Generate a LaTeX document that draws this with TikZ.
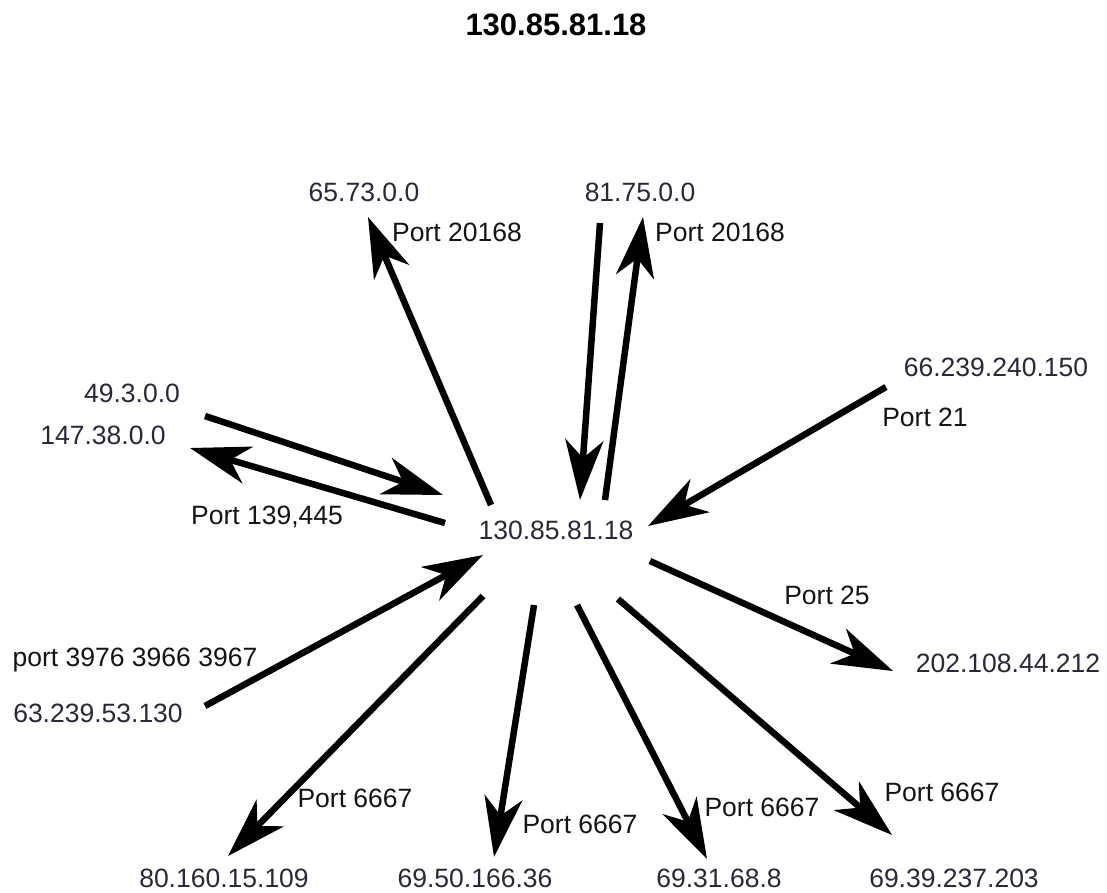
\documentclass[tikz,border=0pt]{standalone}
\usepackage{fontspec}
\setmainfont{Liberation Sans}
\usetikzlibrary{arrows.meta}
\definecolor{ipcol}{RGB}{40,40,58}
\definecolor{portcol}{RGB}{20,20,20}
\tikzset{
  lbl/.style={inner sep=0pt, text depth=0pt, font=\fontsize{26.5}{30}\selectfont, text=portcol},
  ip/.style={inner sep=0pt, text depth=0pt, font=\fontsize{26.5}{30}\selectfont, text=ipcol},
  big/.style={line width=6.5pt, -{Stealth[length=60pt,width=38pt,inset=18pt]}}
}
\begin{document}
\begin{tikzpicture}[x=1pt,y=-1pt]
\useasboundingbox (0,0) rectangle (1107,892);
\fill[white] (0,0) rectangle (1107,892);
% title
\node[inner sep=0pt, text depth=0pt, font=\fontsize{31}{36}\selectfont\bfseries] (title) at (556,25) {130.85.81.18};
% center
\node[ip] (c) at (556,530) {130.85.81.18};
% IP nodes
\node[ip] (n1) at (364,192) {65.73.0.0};
\node[ip] (n2) at (640,192) {81.75.0.0};
\node[ip] (n3) at (996,367) {66.239.240.150};
\node[ip] (n4) at (132,393) {49.3.0.0};
\node[ip] (n5) at (103,435) {147.38.0.0};
\node[ip] (n6) at (98,713) {63.239.53.130};
\node[ip] (n7) at (224,878) {80.160.15.109};
\node[ip] (n8) at (475,878) {69.50.166.36};
\node[ip] (n9) at (719,878) {69.31.68.8};
\node[ip] (n10) at (954,878) {69.39.237.203};
\node[ip] (n11) at (1008,663) {202.108.44.212};
% port labels
\node[lbl] (p1) at (457,232) {Port 20168};
\node[lbl] (p2) at (720,232) {Port 20168};
\node[lbl] (p3) at (925,417) {Port 21};
\node[lbl] (p4) at (267,515) {Port 139,445};
\node[lbl] (p5) at (135,657) {port 3976 3966 3967};
\node[lbl] (p6) at (355,798) {Port 6667};
\node[lbl] (p7) at (580,824) {Port 6667};
\node[lbl] (p8) at (762,807) {Port 6667};
\node[lbl] (p9) at (942,792) {Port 6667};
\node[lbl] (p10) at (827,595) {Port 25};
% arrow end coordinates
\coordinate (a1s) at (491,505); \coordinate (a1e) at (368,217);
\coordinate (a2s) at (600,223); \coordinate (a2e) at (580,500);
\coordinate (a3s) at (605,500); \coordinate (a3e) at (643,217);
\coordinate (a4s) at (886,387); \coordinate (a4e) at (648,526);
\coordinate (a5s) at (205,416); \coordinate (a5e) at (443,495);
\coordinate (a6s) at (445,523); \coordinate (a6e) at (190,448);
\coordinate (a7s) at (205,706); \coordinate (a7e) at (483,555);
\coordinate (a8s) at (483,596); \coordinate (a8e) at (228,856);
\coordinate (a9s) at (534,605); \coordinate (a9e) at (494,857);
\coordinate (a10s) at (577,605); \coordinate (a10e) at (707,859);
\coordinate (a11s) at (618,599); \coordinate (a11e) at (892,835);
\coordinate (a12s) at (650,561); \coordinate (a12e) at (893,671);
\foreach \i in {1,...,12} {\draw[big] (a\i s) -- (a\i e);}
\end{tikzpicture}
\end{document}
